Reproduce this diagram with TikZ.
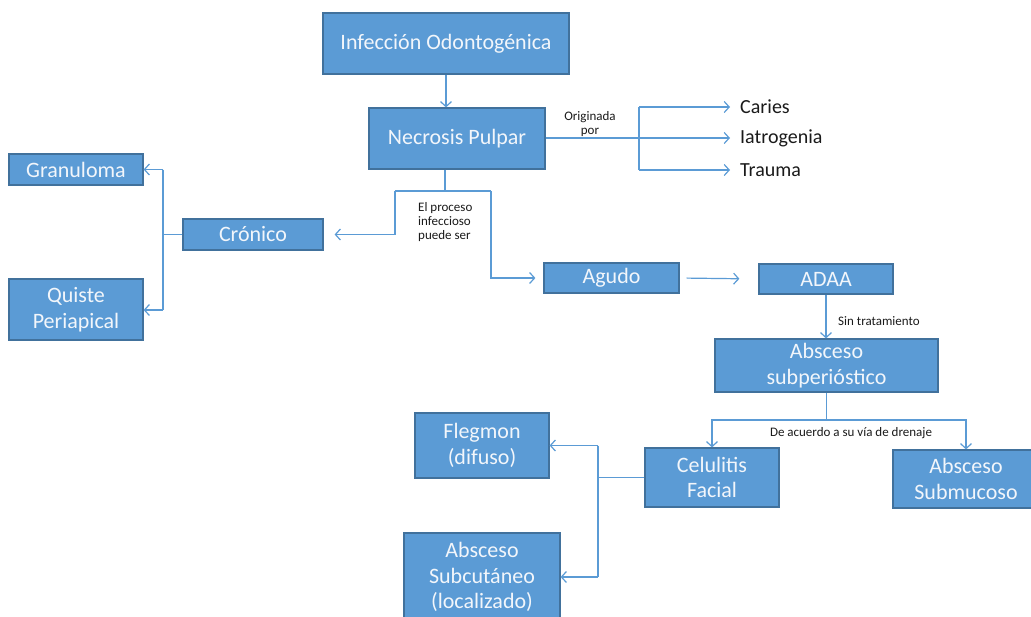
\documentclass[tikz,border=0pt]{standalone}
\usepackage{fontspec}
\setmainfont{Carlito}
\usetikzlibrary{arrows.meta}
\definecolor{boxfill}{HTML}{5B9BD5}
\definecolor{boxline}{HTML}{41719C}
\definecolor{conn}{HTML}{5B9BD5}
\definecolor{boxtext}{HTML}{F2F6FB}
\definecolor{lbl}{HTML}{1A1A1A}
\newcommand\boxfnt{\fontsize{22}{25.5}\selectfont}
\newcommand\smallfnt{\fontsize{13}{14}\selectfont}
\newcommand\sidefnt{\fontsize{20}{22}\selectfont}
\tikzset{
  box/.style={draw=boxline, fill=boxfill, line width=1.2pt, text=boxtext, font=\boxfnt, align=center, inner sep=0pt},
  conline/.style={draw=conn, line width=1.2pt},
  arr/.style={conline, -{Straight Barb[length=5pt,width=11pt,line width=1.2pt]}},
  sidelbl/.style={font=\sidefnt, text=lbl, anchor=west, inner xsep=10pt, inner ysep=0pt},
  smalllbl/.style={font=\smallfnt, text=lbl, align=center, inner sep=0pt}
}
\begin{document}
\begin{tikzpicture}[x=1pt,y=-1pt]
\useasboundingbox (0,0) rectangle (1031,616);
% boxes
\node[box, minimum width=246pt, minimum height=61pt] (inf) at (446,43.5) {Infección Odontogénica};
\node[box, minimum width=176pt, minimum height=61pt] (nec) at (457,138.5) {Necrosis Pulpar};
\node[box, minimum width=134pt, minimum height=31pt] (gran) at (76,169.5) {Granuloma};
\node[box, minimum width=134pt, minimum height=61pt] (quiste) at (76,309.5) {Quiste\\Periapical};
\node[box, minimum width=140pt, minimum height=31pt] (cron) at (253,234.5) {Crónico};
\node[box, minimum width=135pt, minimum height=30pt] (agudo) at (611.5,278) {Agudo};
\node[box, minimum width=134pt, minimum height=30pt] (adaa) at (826,279) {ADAA};
\node[box, minimum width=223pt, minimum height=53pt] (abssub) at (826.5,365.5) {Absceso\\subperióstico};
\node[box, minimum width=134pt, minimum height=65pt] (flegmon) at (482,445.5) {Flegmon\\(difuso)};
\node[box, minimum width=134pt, minimum height=59pt] (celul) at (712,477.5) {Celulitis\\Facial};
\node[box, minimum width=146pt, minimum height=58pt] (submuc) at (966,479) {Absceso\\Submucoso};
\node[box, minimum width=156pt, minimum height=88pt] (subcut) at (482,577) {Absceso\\Subcutáneo\\(localizado)};
% side labels
\node[sidelbl] (caries) at (730,107) {Caries};
\node[sidelbl] (iat) at (730,138) {Iatrogenia};
\node[sidelbl] (trauma) at (730,170) {Trauma};
% small labels
\node[smalllbl] (orig) at (590,124) {Originada\\por};
\node[smalllbl, align=left, anchor=west] (proc) at (418,222) {El proceso\\infeccioso\\puede ser};
\node[smalllbl, anchor=west] (sint) at (838,321) {Sin tratamiento};
\node[smalllbl] (dren) at (851,433) {De acuerdo a su vía de drenaje};
% branch coordinates
\coordinate (cb) at (639,0);
\coordinate (nb) at (445,191);
\coordinate (lb) at (395,191);
\coordinate (rb) at (491,191);
\coordinate (gb) at (163,0);
\coordinate (ab) at (826.5,420);
\coordinate (fb) at (598,0);
% connectors
\draw[arr] (inf.south) -- (inf.south |- nec.north);
\draw[arr] (nec.east |- iat.west) -- (iat.west);
\draw[conline] (cb |- caries.west) -- (cb |- trauma.west);
\draw[arr] (cb |- caries.west) -- (caries.west);
\draw[arr] (cb |- trauma.west) -- (trauma.west);
\draw[conline] (nb |- nec.south) -- (nb);
\draw[conline] (lb) -- (rb);
\draw[arr, shorten >=11pt] (lb) |- (cron.east);
\draw[arr, shorten >=8pt] (rb) |- (agudo.west);
\draw[conline] (cron.west) -- (gb |- cron.west);
\draw[conline] (gb |- gran.east) -- (gb |- 0,310);
\draw[arr] (gb |- gran.east) -- (gran.east);
\draw[arr] (gb |- 0,310) -- (quiste.east |- 0,310);
\draw[arr, shorten <=7pt, shorten >=19pt] (agudo.east) -- (adaa.west);
\draw[arr] (adaa.south) -- (adaa.south |- abssub.north);
\draw[conline] (abssub.south) -- (ab);
\draw[arr] (ab) -| (celul.north);
\draw[arr] (ab) -| (submuc.north);
\draw[conline] (celul.west) -- (fb |- celul.west);
\draw[conline] (fb |- flegmon.east) -- (fb |- subcut.east);
\draw[arr] (fb |- flegmon.east) -- (flegmon.east);
\draw[arr] (fb |- subcut.east) -- (subcut.east);
\end{tikzpicture}
\end{document}
